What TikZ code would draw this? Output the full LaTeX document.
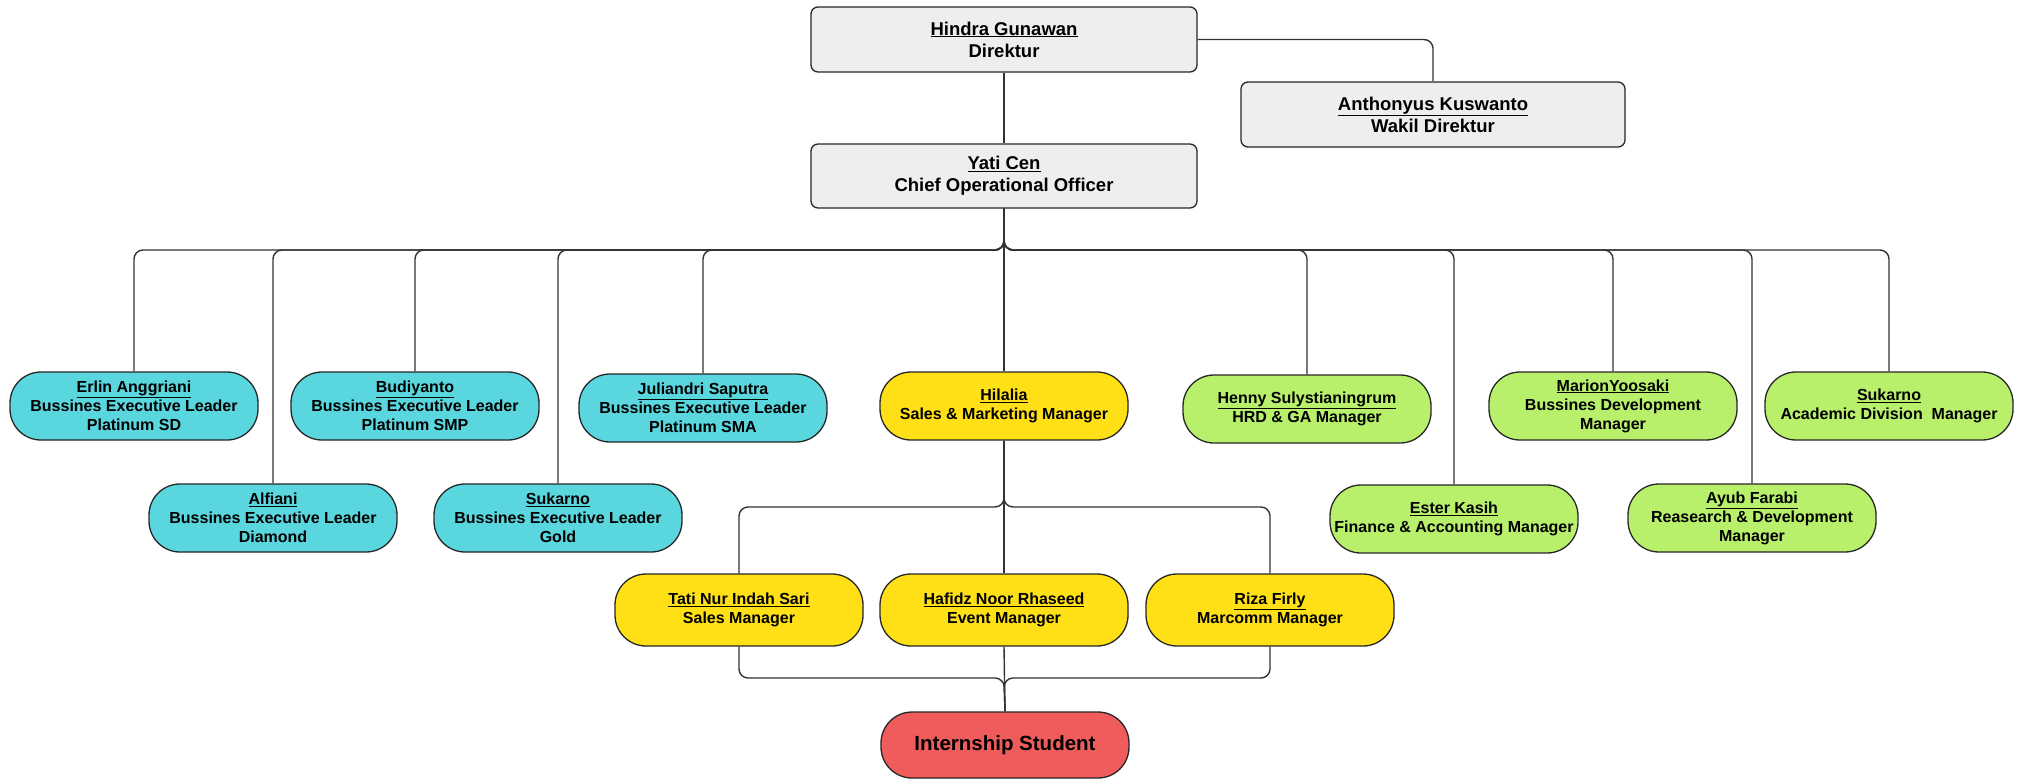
\documentclass[tikz,border=0pt]{standalone}
\usepackage{fontspec}
\setmainfont{Liberation Sans}
\usepackage{tikz}

\definecolor{greybox}{RGB}{238,238,238}
\definecolor{cyanbox}{RGB}{90,214,222}
\definecolor{yellowbox}{RGB}{255,224,22}
\definecolor{greenbox}{RGB}{184,240,108}
\definecolor{redbox}{RGB}{240,92,92}

\tikzset{
	orgbox/.style={draw=black!85, line width=1.3pt, align=center, inner sep=2pt,
		font=\bfseries\fontsize{16}{19}\selectfont},
	topbox/.style={orgbox, fill=greybox, rounded corners=7pt, minimum width=386pt,
		minimum height=65pt, font=\bfseries\fontsize{18.5}{22}\selectfont},
	pillbox/.style={orgbox, rounded corners=31pt, minimum width=248pt, minimum height=68pt},
	link/.style={draw=black!80, line width=1.4pt, rounded corners=9pt}
}
\newcommand{\nm}[1]{\underline{#1}}

\begin{document}
\begin{tikzpicture}[x=1pt,y=-1pt]
	\useasboundingbox (0,0) rectangle (2026,782);
	\node[topbox] (direktur) at (1004,39.5) {\nm{Hindra Gunawan}\\Direktur};
	\node[topbox, minimum width=384pt] (wakil) at (1433,114.5) {\nm{Anthonyus Kuswanto}\\Wakil Direktur};
	\node[topbox, minimum height=64pt] (coo) at (1004,176) {\nm{Yati Cen}\\Chief Operational Officer};

	\node[pillbox, fill=cyanbox] (erlin) at (134,406) {\nm{Erlin Anggriani}\\Bussines Executive Leader\\Platinum SD};
	\node[pillbox, fill=cyanbox] (budiyanto) at (415,406) {\nm{Budiyanto}\\Bussines Executive Leader\\Platinum SMP};
	\node[pillbox, fill=cyanbox] (juliandri) at (703,408) {\nm{Juliandri Saputra}\\Bussines Executive Leader\\Platinum SMA};
	\node[pillbox, fill=yellowbox] (hilalia) at (1004,406) {\nm{Hilalia}\\Sales \& Marketing Manager};
	\node[pillbox, fill=greenbox] (henny) at (1307,409) {\nm{Henny Sulystianingrum}\\HRD \& GA Manager};
	\node[pillbox, fill=greenbox] (marion) at (1613,406) {\nm{MarionYoosaki}\\Bussines Development\\Manager};
	\node[pillbox, fill=greenbox] (sukarnoad) at (1889,406) {\nm{Sukarno}\\Academic Division~~Manager};

	\node[pillbox, fill=cyanbox] (alfiani) at (273,518) {\nm{Alfiani}\\Bussines Executive Leader\\Diamond};
	\node[pillbox, fill=cyanbox] (sukarnogold) at (558,518) {\nm{Sukarno}\\Bussines Executive Leader\\Gold};
	\node[pillbox, fill=greenbox] (ester) at (1454,519) {\nm{Ester Kasih}\\Finance \& Accounting Manager};
	\node[pillbox, fill=greenbox] (ayub) at (1752,518) {\nm{Ayub Farabi}\\Reasearch \& Development\\Manager};

	\node[pillbox, fill=yellowbox, minimum height=72pt] (tati) at (739,610) {\nm{Tati Nur Indah Sari}\\Sales Manager};
	\node[pillbox, fill=yellowbox, minimum height=72pt] (hafidz) at (1004,610) {\nm{Hafidz Noor Rhaseed}\\Event Manager};
	\node[pillbox, fill=yellowbox, minimum height=72pt] (riza) at (1270,610) {\nm{Riza Firly}\\Marcomm Manager};

	\node[pillbox, fill=redbox, minimum height=66pt, font=\bfseries\fontsize{20.5}{24}\selectfont] (intern) at (1005,745) {Internship Student};

	\coordinate (topbus) at (1004,250);
	\coordinate (salesbus) at (1004,507);
	\coordinate (lowbus) at (1004,678);

	\draw[link] (direktur.south) -- (coo.north);
	\draw[link] (direktur.east) -| (wakil.north);
	\foreach \staff in {erlin,alfiani,budiyanto,sukarnogold,juliandri,henny,ester,marion,ayub,sukarnoad}
		\draw[link] (coo.south) -- (topbus) -| (\staff.north);
	\draw[link] (coo.south) -- (hilalia.north);
	\draw[link] (hilalia.south) -- (hafidz.north);
	\draw[link] (hilalia.south) -- (salesbus) -| (tati.north);
	\draw[link] (hilalia.south) -- (salesbus) -| (riza.north);
	\draw[link] (tati.south) |- (lowbus) -- (intern.north);
	\draw[link] (riza.south) |- (lowbus) -- (intern.north);
	\draw[link] (hafidz.south) -- (intern.north);
\end{tikzpicture}
\end{document}
